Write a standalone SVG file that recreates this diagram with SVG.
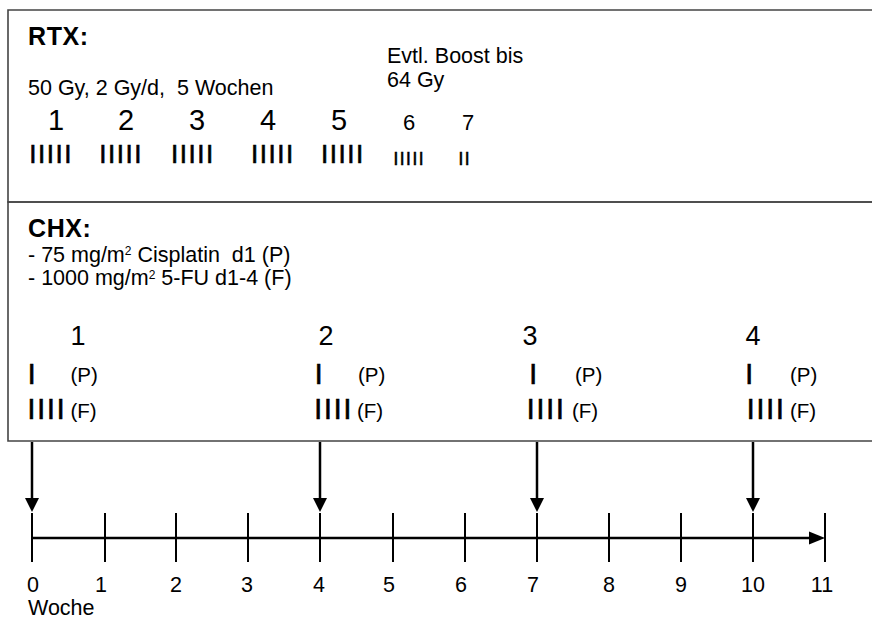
<svg xmlns="http://www.w3.org/2000/svg" width="872" height="619" viewBox="0 0 872 619">
<defs>
<style>
text{font-family:"Liberation Sans",Arial,sans-serif;fill:#000;white-space:pre}
.h{font-weight:bold;font-size:25px;letter-spacing:0.6px}
.t{font-size:21.5px}
.n{font-size:29px;text-anchor:middle}
.ns{font-size:22px;text-anchor:middle}
.bar{font-size:26px;letter-spacing:1.5px;stroke:#000;stroke-width:0.6}
.bars{font-size:19px;letter-spacing:1px;stroke:#000;stroke-width:0.4}
.cn{font-size:27px;text-anchor:middle}
.ci{font-size:30px;letter-spacing:1.4px;stroke:#000;stroke-width:0.5}
.cp{font-size:20.5px}
.ax{font-size:21.5px;text-anchor:middle}
.sup{font-size:12px}
.frame{fill:none;stroke:#444;stroke-width:1.6}
.arr{stroke:#000;stroke-width:2.5;fill:none}
.tick{stroke:#000;stroke-width:2}
.head{fill:#000}
</style>
</defs>
<g id="rtx">
<path class="frame" d="M873,10 H8 V202 H873"/>
<text class="h" x="28" y="45">RTX:</text>
<text class="t" x="28" y="95" xml:space="preserve">50 Gy, 2 Gy/d,  5 Wochen</text>
<text class="t" x="387" y="63">Evtl. Boost bis</text>
<text class="t" x="387" y="87">64 Gy</text>
<text class="n" x="56" y="130">1</text>
<text class="n" x="126" y="130">2</text>
<text class="n" x="197" y="130">3</text>
<text class="n" x="268" y="130">4</text>
<text class="n" x="339" y="130">5</text>
<text class="ns" x="409" y="130">6</text>
<text class="ns" x="468" y="130">7</text>
<text class="bar" x="29.3" y="163">IIIII</text>
<text class="bar" x="99.3" y="163">IIIII</text>
<text class="bar" x="171" y="163">IIIII</text>
<text class="bar" x="251" y="163">IIIII</text>
<text class="bar" x="321" y="163">IIIII</text>
<text class="bars" x="393.3" y="165">IIIII</text>
<text class="bars" x="458.3" y="165">II</text>
</g>
<g id="chx">
<path class="frame" d="M873,202 H8 V441 H873"/>
<text class="h" x="28" y="237">CHX:</text>
<text class="t" x="28" y="262" xml:space="preserve">- 75 mg/m<tspan class="sup" dy="-7">2</tspan><tspan dy="7"> Cisplatin  d1 (P)</tspan></text>
<text class="t" x="28" y="285" xml:space="preserve">- 1000 mg/m<tspan class="sup" dy="-6.5">2</tspan><tspan dy="6.5"> 5-FU d1-4 (F)</tspan></text>
<text class="cn" x="78" y="345">1</text>
<text class="cn" x="326" y="345">2</text>
<text class="cn" x="530" y="345">3</text>
<text class="cn" x="753" y="345">4</text>
<text class="ci" x="27.5" y="384">I</text>
<text class="ci" x="27.3" y="419">IIII</text>
<text class="cp" x="70.5" y="382">(P)</text>
<text class="cp" x="70.5" y="418">(F)</text>
<text class="ci" x="314.5" y="384">I</text>
<text class="ci" x="314" y="419">IIII</text>
<text class="cp" x="358" y="382">(P)</text>
<text class="cp" x="357" y="418">(F)</text>
<text class="ci" x="529" y="384">I</text>
<text class="ci" x="526.6" y="419">IIII</text>
<text class="cp" x="575" y="382">(P)</text>
<text class="cp" x="572" y="418">(F)</text>
<text class="ci" x="745" y="384">I</text>
<text class="ci" x="746.5" y="419">IIII</text>
<text class="cp" x="790" y="382">(P)</text>
<text class="cp" x="790" y="418">(F)</text>
</g>
<g id="timeline">
<line class="tick" x1="32" y1="513" x2="32" y2="562"/>
<line class="tick" x1="105" y1="513" x2="105" y2="562"/>
<line class="tick" x1="176" y1="513" x2="176" y2="562"/>
<line class="tick" x1="248" y1="513" x2="248" y2="562"/>
<line class="tick" x1="320" y1="513" x2="320" y2="562"/>
<line class="tick" x1="393" y1="513" x2="393" y2="562"/>
<line class="tick" x1="465" y1="513" x2="465" y2="562"/>
<line class="tick" x1="537" y1="513" x2="537" y2="562"/>
<line class="tick" x1="609" y1="513" x2="609" y2="562"/>
<line class="tick" x1="681" y1="513" x2="681" y2="562"/>
<line class="tick" x1="753" y1="513" x2="753" y2="562"/>
<line class="tick" x1="825" y1="513" x2="825" y2="562"/>
<line class="arr" x1="32" y1="538" x2="810" y2="538"/>
<polygon class="head" points="809,531.5 825,538 809,544.5"/>
<text class="ax" x="33" y="592">0</text>
<text class="ax" x="101" y="592">1</text>
<text class="ax" x="176" y="592">2</text>
<text class="ax" x="247" y="592">3</text>
<text class="ax" x="319" y="592">4</text>
<text class="ax" x="389" y="592">5</text>
<text class="ax" x="461" y="592">6</text>
<text class="ax" x="533" y="592">7</text>
<text class="ax" x="609" y="592">8</text>
<text class="ax" x="681" y="592">9</text>
<text class="ax" x="753" y="592">10</text>
<text class="ax" x="822" y="592">11</text>
<text class="t" x="28" y="615">Woche</text>
</g>
<g id="connectors">
<line class="arr" x1="32" y1="442" x2="32" y2="499"/>
<polygon class="head" points="25,498 39,498 32,512"/>
<line class="arr" x1="320" y1="442" x2="320" y2="499"/>
<polygon class="head" points="313,498 327,498 320,512"/>
<line class="arr" x1="537" y1="442" x2="537" y2="499"/>
<polygon class="head" points="530,498 544,498 537,512"/>
<line class="arr" x1="753" y1="442" x2="753" y2="499"/>
<polygon class="head" points="746,498 760,498 753,512"/>
</g>
</svg>
